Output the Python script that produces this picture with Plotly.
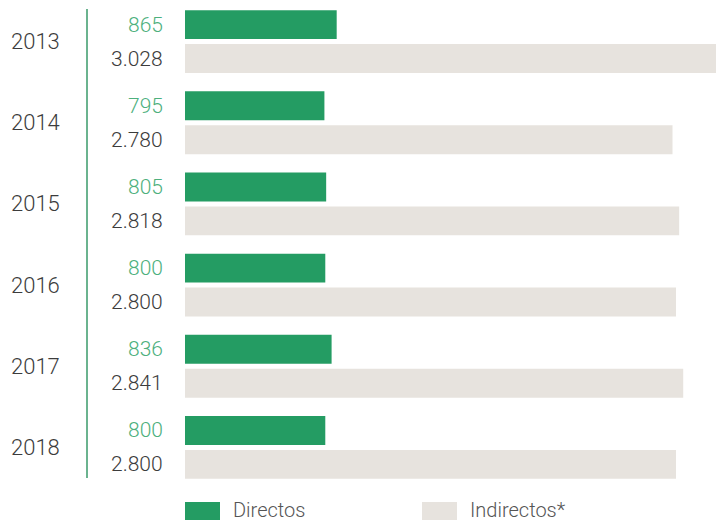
import plotly.graph_objects as go

years = ["2013", "2014", "2015", "2016", "2017", "2018"]
directos = [865, 795, 805, 800, 836, 800]
indirectos = [3028, 2780, 2818, 2800, 2841, 2800]
labels_directos = ["865", "795", "805", "800", "836", "800"]
labels_indirectos = ["3.028", "2.780", "2.818", "2.800", "2.841", "2.800"]
series_names = ["Directos", "Indirectos*"]

GREEN = "#249c63"
GREEN_TXT = "#4db07d"
BEIGE = "#e7e3de"
DARK = "#3c3c3c"
FONT = "Roboto"

W, H = 716, 521
ML, MR, MT, MB = 185, 0, 1, 33
PW, PH = W - ML - MR, H - MT - MB

def px_x(px):
    return (px - ML) / PW

def px_y(py):
    return (H - MB - py) / PH

fig = go.Figure()
fig.add_trace(go.Bar(y=years, x=directos, orientation="h", name=series_names[0],
                     marker=dict(color=GREEN, line=dict(width=0)), showlegend=False,
                     hoverinfo="x+name"))
fig.add_trace(go.Bar(y=years, x=indirectos, orientation="h", name=series_names[1],
                     marker=dict(color=BEIGE, line=dict(width=0)), showlegend=False,
                     hoverinfo="x+name"))

annotations = []
for i, (yr, ld, li) in enumerate(zip(years, labels_directos, labels_indirectos)):
    annotations.append(dict(x=px_x(165), xref="paper", y=i, yref="y", text=ld,
                            xanchor="right", yanchor="middle", yshift=17, showarrow=False,
                            font=dict(family=FONT, size=21, color=GREEN_TXT, weight=300)))
    annotations.append(dict(x=px_x(165), xref="paper", y=i, yref="y", text=li,
                            xanchor="right", yanchor="middle", yshift=-17, showarrow=False,
                            font=dict(family=FONT, size=21, color=DARK, weight=300)))
    annotations.append(dict(x=px_x(35), xref="paper", y=i, yref="y", text=yr,
                            xanchor="center", yanchor="middle", yshift=0, showarrow=False,
                            font=dict(family=FONT, size=22, color=DARK, weight=300)))

# legend (custom)
legend_items = [(185, 220, GREEN, series_names[0]), (422, 457, BEIGE, series_names[1])]
shapes = []
for x0, x1, col, name in legend_items:
    shapes.append(dict(type="rect", xref="paper", yref="paper",
                       x0=px_x(x0), x1=px_x(x1), y0=px_y(520), y1=px_y(502),
                       fillcolor=col, line=dict(width=0)))
    annotations.append(dict(x=px_x(x1 + 11), xref="paper", y=px_y(510), yref="paper",
                            text=name, xanchor="left", yanchor="middle", showarrow=False,
                            font=dict(family=FONT, size=20, color="#555555", weight=300)))

# vertical separator line
shapes.append(dict(type="line", xref="paper", yref="paper",
                   x0=px_x(87), x1=px_x(87), y0=px_y(478), y1=px_y(9),
                   line=dict(color="#3a9a6a", width=1.5)))

fig.update_layout(
    width=W, height=H,
    margin=dict(l=ML, r=MR, t=MT, b=MB, pad=0),
    paper_bgcolor="white", plot_bgcolor="white",
    barmode="group", bargap=0.165, bargroupgap=0.147,
    xaxis=dict(range=[0, 3028], visible=False, fixedrange=True),
    yaxis=dict(type="category", categoryorder="array", categoryarray=years,
               range=[len(years) - 0.5, -0.5], autorange=False,
               showticklabels=False, showgrid=False,
               zeroline=False, showline=False, ticks="", fixedrange=True),
    annotations=annotations, shapes=shapes,
    font=dict(family=FONT),
)

fig.write_html("out.html", config={"displayModeBar": False},
               post_script="document.body.style.margin='0';")
